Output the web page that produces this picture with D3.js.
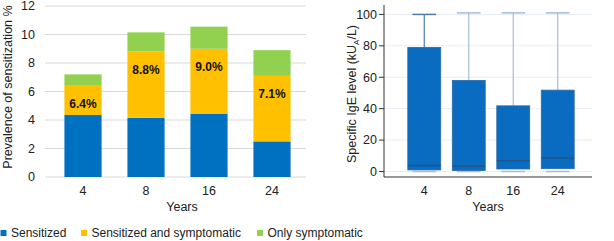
<!DOCTYPE html>
<meta charset="utf-8">
<style>
  body { margin: 0; background: #fff; }
  text { font-family: "Liberation Sans", Arial, sans-serif; }
</style>
<script src="https://d3js.org/d3.v7.min.js"></script>
<body>
<div id="chart"></div>
<script>

  // data
  var years = ["4", "8", "16", "24"];
  var sensitized = [4.35, 4.15, 4.45, 2.5];
  var sensSympt = [2.05, 4.65, 4.55, 4.6];
  var onlySympt = [0.8, 1.35, 1.55, 1.8];
  var sensLabels = ["6.4%", "8.8%", "9.0%", "7.1%"];
  var leftTicks = [0, 2, 4, 6, 8, 10, 12];

  var igeMin = [0, 0, 0, 0];
  var igeQ1 = [1, 0.6, 1.6, 1.8];
  var igeMedian = [3.9, 3.4, 6.9, 8.6];
  var igeQ3 = [79, 58, 41.8, 51.8];
  var igeMax = [100, 101, 101, 101];
  var rightTicks = [0, 20, 40, 60, 80, 100];

  var seriesNames = ["Sensitized", "Sensitized and symptomatic", "Only symptomatic"];
  var colors = ["#0070c0", "#ffc000", "#92d050"];

  var width = 614, height = 241;

  var svg = d3.select("#chart").append("svg")
      .attr("width", width)
      .attr("height", height);

  // ---------- left: stacked bars ----------
  var x = d3.scaleBand().domain(years).range([51.5, 303.5])
      .paddingInner(0.41).paddingOuter(0.205);
  var y = d3.scaleLinear().domain([0, 12]).range([177, 6]);

  var left = svg.append("g");

  left.selectAll(".grid").data(leftTicks).enter().append("line")
      .attr("x1", 45).attr("x2", 306)
      .attr("y1", d => y(d)).attr("y2", d => y(d))
      .attr("stroke", "#d9d9d9").attr("stroke-width", 1.2);

  left.selectAll(".ytick").data(leftTicks).enter().append("text")
      .attr("x", 35).attr("y", d => y(d)).attr("dy", "0.35em")
      .attr("text-anchor", "end").attr("font-size", 12.5).attr("fill", "#222")
      .text(d => d);

  var rows = years.map((yr, i) => ({ year: yr, s: sensitized[i], ss: sensSympt[i], o: onlySympt[i] }));
  var stack = d3.stack().keys(["s", "ss", "o"])(rows);

  left.selectAll(".layer").data(stack).enter().append("g")
      .attr("fill", (d, i) => colors[i])
    .selectAll("rect").data(d => d).enter().append("rect")
      .attr("x", d => x(d.data.year))
      .attr("width", x.bandwidth())
      .attr("y", d => y(d[1]))
      .attr("height", d => y(d[0]) - y(d[1]));

  left.selectAll(".lab").data(rows).enter().append("text")
      .attr("x", d => x(d.year) + x.bandwidth() / 2)
      .attr("y", d => y(d.s + d.ss) + 18)
      .attr("dy", "0.35em")
      .attr("text-anchor", "middle").attr("font-size", 12).attr("font-weight", "bold")
      .attr("fill", "#111")
      .text((d, i) => sensLabels[i]);

  left.selectAll(".xtick").data(years).enter().append("text")
      .attr("x", d => x(d) + x.bandwidth() / 2).attr("y", 191).attr("dy", "0.35em")
      .attr("text-anchor", "middle").attr("font-size", 12.5).attr("fill", "#222")
      .text(d => d);

  left.append("text").attr("x", 182).attr("y", 207).attr("dy", "0.35em")
      .attr("text-anchor", "middle").attr("font-size", 12.5).attr("fill", "#222")
      .text("Years");

  left.append("text")
      .attr("transform", "translate(8,87) rotate(-90)")
      .attr("dy", "0.35em")
      .attr("text-anchor", "middle").attr("font-size", 12.5).attr("fill", "#222")
      .text("Prevalence of sensitization %");

  // legend
  var legX = [0, 80.5, 256.5];
  var leg = svg.selectAll(".leg").data(seriesNames).enter().append("g")
      .attr("transform", (d, i) => "translate(" + legX[i] + ",233)");
  leg.append("rect").attr("x", 0.5).attr("y", -3).attr("width", 6).attr("height", 6)
      .attr("fill", (d, i) => colors[i]);
  leg.append("text").attr("x", 11).attr("dy", "0.35em")
      .attr("font-size", 12).attr("fill", "#222").text(d => d);

  // ---------- right: box plot ----------
  var x2 = d3.scaleBand().domain(years).range([390, 592])
      .paddingInner(0.26).paddingOuter(0.4);
  var y2 = d3.scaleLinear().domain([-3.5, 106]).range([177, 5]);

  var right = svg.append("g");

  right.selectAll(".grid2").data(rightTicks).enter().append("line")
      .attr("x1", 384).attr("x2", 592)
      .attr("y1", d => y2(d)).attr("y2", d => y2(d))
      .attr("stroke", "#e6eef5").attr("stroke-width", 1);

  var boxes = years.map((yr, i) => ({
    year: yr, min: igeMin[i], q1: igeQ1[i], med: igeMedian[i], q3: igeQ3[i], max: igeMax[i]
  }));
  var whiskerColor = (d, i) => i === 0 ? "#4d7cab" : "#a9bdd5";

  var bx = right.selectAll(".box").data(boxes).enter().append("g");
  var cx = d => x2(d.year) + x2.bandwidth() / 2;
  var capW = x2.bandwidth() * 0.36;

  bx.append("line")
      .attr("x1", cx).attr("x2", cx)
      .attr("y1", d => y2(d.q3)).attr("y2", d => y2(d.max))
      .attr("stroke", whiskerColor).attr("stroke-width", 1.2);
  bx.append("line")
      .attr("x1", d => cx(d) - capW).attr("x2", d => cx(d) + capW)
      .attr("y1", d => y2(d.max)).attr("y2", d => y2(d.max))
      .attr("stroke", whiskerColor).attr("stroke-width", 1.5);
  bx.append("line")
      .attr("x1", d => cx(d) - capW).attr("x2", d => cx(d) + capW)
      .attr("y1", d => y2(d.min)).attr("y2", d => y2(d.min))
      .attr("stroke", "#a9bdd5").attr("stroke-width", 1.5);
  bx.append("rect")
      .attr("x", d => x2(d.year)).attr("width", x2.bandwidth())
      .attr("y", d => y2(d.q3)).attr("height", d => y2(d.q1) - y2(d.q3))
      .attr("fill", "#0a6cc0").attr("stroke", "#2a6aa6").attr("stroke-width", 0.8);
  bx.append("line")
      .attr("x1", d => x2(d.year)).attr("x2", d => x2(d.year) + x2.bandwidth())
      .attr("y1", d => y2(d.med)).attr("y2", d => y2(d.med))
      .attr("stroke", "#1f568c").attr("stroke-width", 1.5);

  // axes
  right.append("line").attr("x1", 384).attr("x2", 384).attr("y1", 5).attr("y2", 177)
      .attr("stroke", "#333").attr("stroke-width", 1);
  right.append("line").attr("x1", 384).attr("x2", 592).attr("y1", 177).attr("y2", 177)
      .attr("stroke", "#333").attr("stroke-width", 1);
  right.selectAll(".ytick2").data(rightTicks).enter().append("line")
      .attr("x1", 379).attr("x2", 384)
      .attr("y1", d => y2(d)).attr("y2", d => y2(d))
      .attr("stroke", "#333");
  right.selectAll(".ylab2").data(rightTicks).enter().append("text")
      .attr("x", 377).attr("y", d => y2(d)).attr("dy", "0.35em")
      .attr("text-anchor", "end").attr("font-size", 12.5).attr("fill", "#222")
      .text(d => d);
  right.selectAll(".xlab2").data(years).enter().append("text")
      .attr("x", d => x2(d) + x2.bandwidth() / 2).attr("y", 191).attr("dy", "0.35em")
      .attr("text-anchor", "middle").attr("font-size", 12.5).attr("fill", "#222")
      .text(d => d);
  right.append("text").attr("x", 488).attr("y", 207).attr("dy", "0.35em")
      .attr("text-anchor", "middle").attr("font-size", 12.5).attr("fill", "#222")
      .text("Years");

  var yt = right.append("text")
      .attr("transform", "translate(352,94) rotate(-90)")
      .attr("dy", "0.35em")
      .attr("text-anchor", "middle").attr("font-size", 12.5).attr("fill", "#222");
  yt.append("tspan").text("Specific IgE level (kU");
  yt.append("tspan").attr("font-size", 8).attr("dy", 3).text("A");
  yt.append("tspan").attr("dy", -3).text("/L)");

</script>
</body>
